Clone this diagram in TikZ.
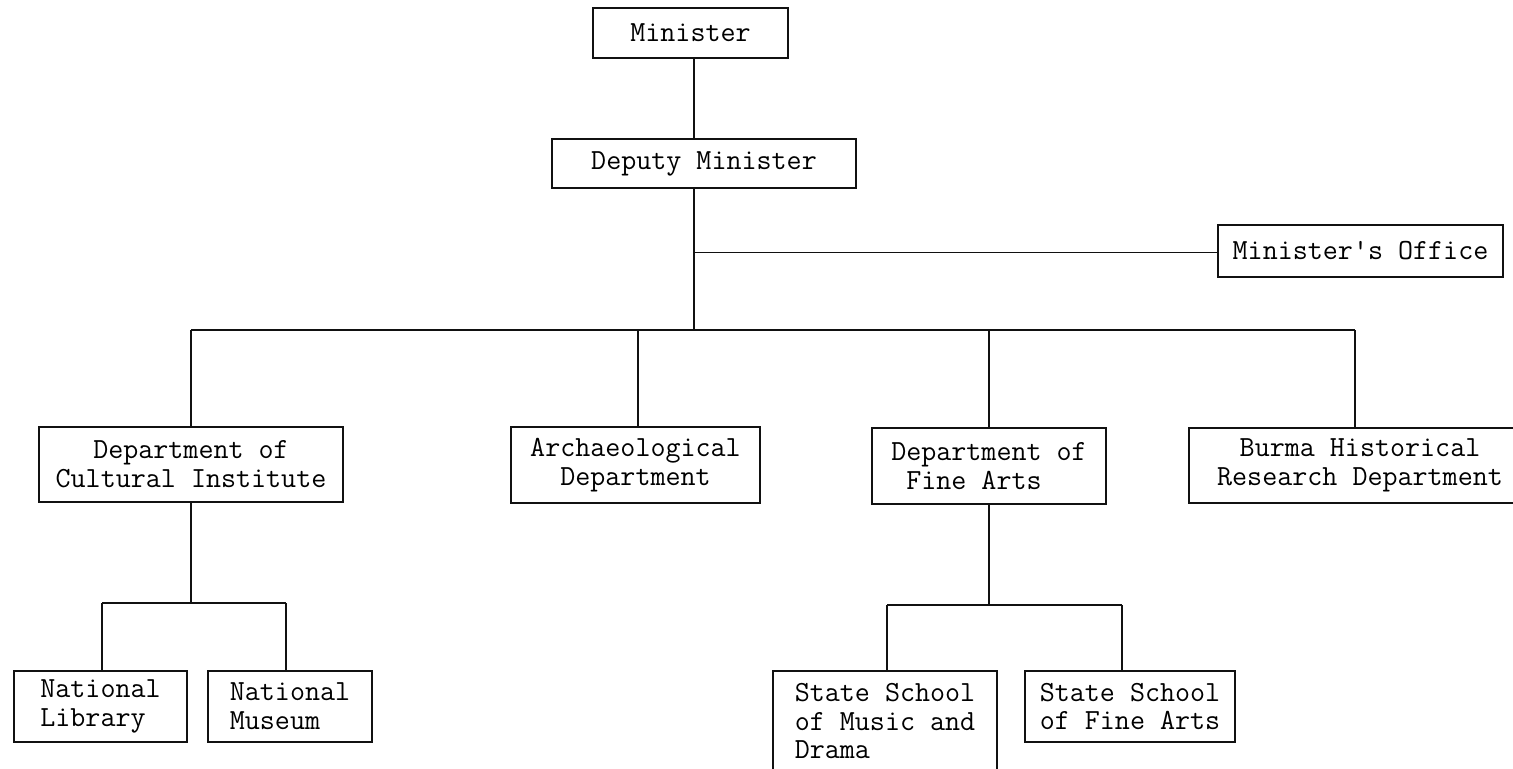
\documentclass[tikz,border=0pt]{standalone}
\usepackage{xcolor}
\usepackage{tikz}
\definecolor{ink}{HTML}{111111}
\tikzset{
  unit/.style={draw=ink,line width=1.2pt,fill=white,align=center,font=\fontsize{14.6}{14.4}\selectfont\ttfamily,inner sep=2pt},
  unitl/.style={unit,align=left},
  link/.style={draw=ink,line width=0.9pt},
  thinlink/.style={draw=ink,line width=0.5pt}
}

\begin{document}
\begin{tikzpicture}[x=0.5pt,y=-0.5pt]
  \useasboundingbox (0,0) rectangle (1513,768);
  \clip (0,0) rectangle (1513,768);
  % top of the chart
  \node[unit,minimum width=97.5pt,minimum height=25pt] (minister) at (690.5,33) {Minister};
  \node[unit,minimum width=152pt,minimum height=24.5pt] (deputy) at (704,163.5) {Deputy Minister};
  \node[unit,minimum width=142.5pt,minimum height=26pt] (office) at (1360.5,251) {Minister's Office};
  % departments
  \node[unit,minimum width=152pt,minimum height=37.5pt] (cultural) at (191,464.5) {Department of\\Cultural Institute};
  \node[unit,minimum width=124.5pt,minimum height=38pt] (archaeo) at (635.5,465) {Archaeological\\Department};
  \node[unitl,minimum width=117pt,minimum height=38pt] (finearts) at (989,466) {Department of\\~Fine Arts};
  \node[unit,minimum width=171pt,minimum height=37.5pt] (burma) at (1360,465.5) {Burma Historical\\Research Department};
  % sub units
  \node[unitl,minimum width=86.5pt,minimum height=35.5pt] (library) at (100.5,706.5) {National\\Library};
  \node[unitl,minimum width=82pt,minimum height=35.5pt] (museum) at (290,706.5) {National\\Museum};
  \node[unitl,minimum width=112pt,minimum height=50pt] (music) at (885,721) {State School\\of Music and\\Drama};
  \node[unitl,minimum width=105pt,minimum height=35.5pt] (fineschool) at (1130,706.5) {State School\\of Fine Arts};
  % junction points
  \coordinate (hub) at (694,330);
  \coordinate (officejoin) at (694,252);
  \coordinate (busL) at (191,330);
  \coordinate (busA) at (638,330);
  \coordinate (busR) at (1355,330);
  \coordinate (cL) at (102,603);
  \coordinate (cR) at (286,603);
  \coordinate (fL) at (887,605);
  \coordinate (fR) at (1122,605);
  % connectors
  \draw[link] (minister.south -| hub) -- (deputy.north -| hub);
  \draw[link] (deputy.south -| hub) -- (hub);
  \draw[thinlink] (officejoin) -- (officejoin -| office.west);
  \draw[link] (busL) -- (busR);
  \draw[link] (busL) -- (cultural.north);
  \draw[link] (busA) -- (busA |- archaeo.north);
  \draw[link] (finearts.north |- hub) -- (finearts.north);
  \draw[link] (busR) -- (busR |- burma.north);
  \draw[link] (cultural.south) -- (cultural.south |- cL);
  \draw[link] (cL) -- (cR);
  \draw[link] (cL) -- (cL |- library.north);
  \draw[link] (cR) -- (cR |- museum.north);
  \draw[link] (finearts.south) -- (finearts.south |- fL);
  \draw[link] (fL) -- (fR);
  \draw[link] (fL) -- (fL |- music.north);
  \draw[link] (fR) -- (fR |- fineschool.north);
\end{tikzpicture}
\end{document}
